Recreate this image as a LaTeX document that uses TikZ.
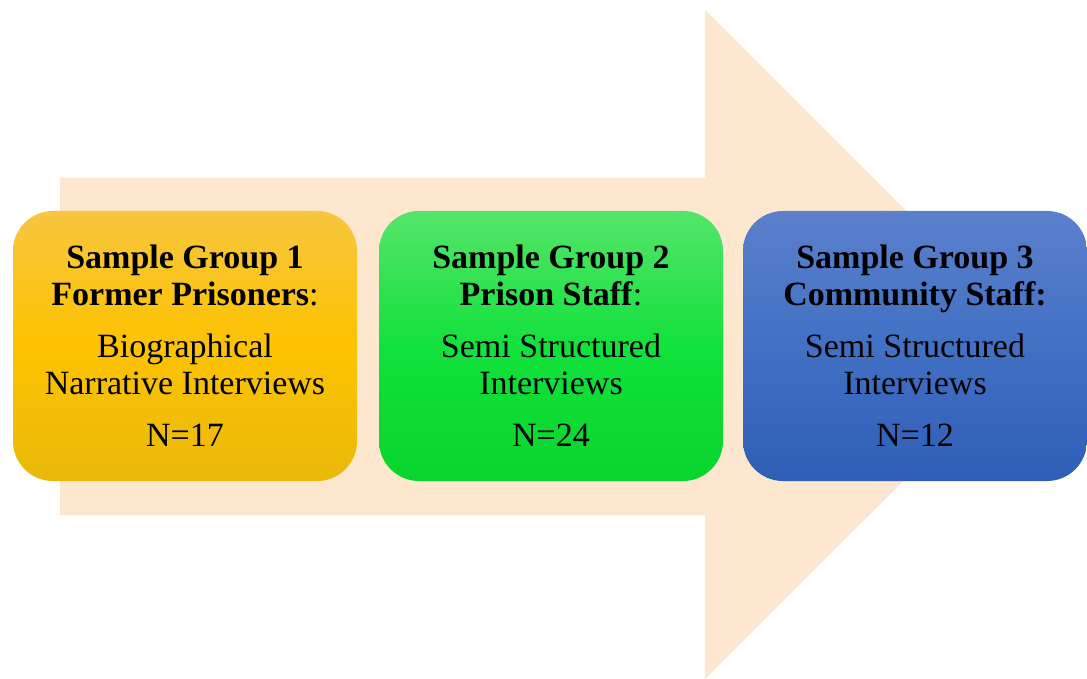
\documentclass[tikz,border=0pt]{standalone}
\usepackage{fontspec}
\setmainfont{Liberation Serif}
\begin{document}
\begin{tikzpicture}[x=1pt,y=-1pt,
  groupbox/.style={rounded corners=40pt, minimum width=344pt, minimum height=270pt,
    inner sep=0pt, align=center, text=black,
    font=\fontsize{34}{37}\selectfont},
  gold/.style={top color=goldtop, bottom color=goldbot, middle color=goldmid},
  green/.style={top color=greentop, bottom color=greenbot, middle color=greenmid},
  blue/.style={top color=bluetop, bottom color=bluebot, middle color=bluemid}]
\definecolor{arrowfill}{HTML}{FDE7CF}
\definecolor{goldtop}{HTML}{F8C640}
\definecolor{goldmid}{HTML}{FDC300}
\definecolor{goldbot}{HTML}{E9B90A}
\definecolor{greentop}{HTML}{55E46A}
\definecolor{greenmid}{HTML}{12E23C}
\definecolor{greenbot}{HTML}{08D42C}
\definecolor{bluetop}{HTML}{5B80CC}
\definecolor{bluemid}{HTML}{4170C4}
\definecolor{bluebot}{HTML}{2F5EB6}
\useasboundingbox (0,0) rectangle (1087,679);
\fill[arrowfill] (60,178) -- (705,178) -- (705,10) -- (1040,344.5) -- (705,679) -- (705,515) -- (60,515) -- cycle;
\node[groupbox, gold] (g1) at (185,346) {\textbf{Sample Group 1}\\ \textbf{Former Prisoners}:\\[15pt] Biographical\\ Narrative Interviews\\[15pt] N=17};
\node[groupbox, green] (g2) at (551,346) {\textbf{Sample Group 2}\\ \textbf{Prison Staff}:\\[15pt] Semi Structured\\ Interviews\\[15pt] N=24};
\node[groupbox, blue] (g3) at (915,346) {\textbf{Sample Group 3}\\ \textbf{Community Staff:}\\[15pt] Semi Structured\\ Interviews\\[15pt] N=12};
\end{tikzpicture}
\end{document}
